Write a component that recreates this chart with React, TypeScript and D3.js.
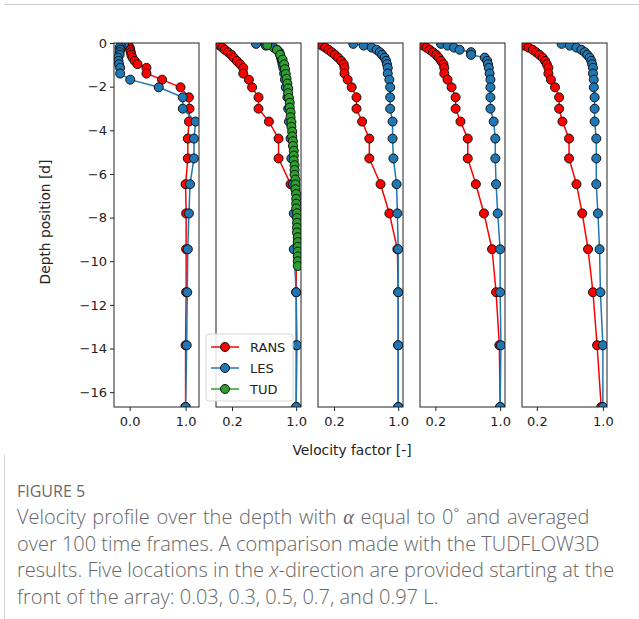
import { useEffect, useRef } from 'react';
import * as d3 from 'd3';

// depth grid (in d) shared by RANS and LES profiles
const depthLevels = [-0.04, -0.12, -0.21, -0.31, -0.42, -0.54, -0.67, -0.82, -0.97, -1.14, -1.40, -1.68, -2.03, -2.49, -3.01, -3.60, -4.38, -5.29, -6.47, -7.81, -9.45, -11.42, -13.85, -16.68];

// x = 0.03 L
const rans003 = [-0.05, -0.02, 0.0, 0.01, 0.02, 0.03, 0.05, 0.09, 0.14, 0.30, 0.30, 0.58, 0.91, 1.06, 1.07, 1.06, 1.04, 1.04, 1.0, 1.01, 1.01, 1.01, 1.0, 1.0];
const les003 = [-0.10, -0.16, -0.18, -0.17, -0.18, -0.18, -0.21, -0.20, -0.19, -0.17, -0.17, 0.01, 0.52, 0.95, 0.95, 1.18, 1.15, 1.15, 1.08, 1.06, 1.04, 1.03, 1.02, 1.0];
// x = 0.3 L
const rans03 = [0.03, 0.05, 0.08, 0.11, 0.15, 0.19, 0.22, 0.26, 0.30, 0.34, 0.34, 0.41, 0.45, 0.53, 0.53, 0.66, 0.78, 0.78, 0.93, 0.99, 1.0, 1.0, 1.0, 1.0];
const les03 = [0.50, 0.62, 0.72, 0.76, 0.79, 0.80, 0.81, 0.82, 0.83, 0.84, 0.85, 0.86, 0.87, 0.89, 0.90, 0.91, 0.93, 0.94, 0.96, 0.97, 0.97, 1.0, 1.01, 1.0];
const tudDepth = [-0.10, -0.32, -0.54, -0.76, -0.98, -1.20, -1.42, -1.64, -1.86, -2.08, -2.30, -2.52, -2.74, -2.96, -3.18, -3.40, -3.62, -3.84, -4.06, -4.28, -4.50, -4.72, -4.94, -5.16, -5.38, -5.60, -5.82, -6.04, -6.26, -6.48, -6.70, -6.92, -7.14, -7.36, -7.58, -7.80, -8.02, -8.24, -8.46, -8.68, -8.90, -9.12, -9.34, -9.56, -9.78, -10.00, -10.22];
const tud03 = [0.64, 0.76, 0.80, 0.83, 0.85, 0.86, 0.87, 0.88, 0.89, 0.90, 0.90, 0.91, 0.92, 0.92, 0.93, 0.93, 0.94, 0.94, 0.95, 0.95, 0.96, 0.96, 0.97, 0.97, 0.97, 0.98, 0.98, 0.98, 0.99, 0.99, 0.99, 1.0, 1.0, 1.0, 1.0, 1.01, 1.01, 1.01, 1.01, 1.01, 1.02, 1.02, 1.02, 1.02, 1.02, 1.02, 1.02];
// x = 0.5 L
const rans05 = [0.02, 0.05, 0.09, 0.13, 0.17, 0.21, 0.25, 0.29, 0.32, 0.33, 0.33, 0.37, 0.42, 0.48, 0.48, 0.55, 0.64, 0.64, 0.78, 0.89, 0.99, 1.0, 1.0, 1.0];
const les05 = [0.44, 0.57, 0.67, 0.73, 0.77, 0.80, 0.83, 0.85, 0.86, 0.87, 0.87, 0.89, 0.90, 0.90, 0.90, 0.93, 0.93, 0.94, 0.98, 0.99, 1.0, 1.0, 1.0, 1.0];
// x = 0.7 L
const rans07 = [0.02, 0.05, 0.09, 0.13, 0.17, 0.21, 0.24, 0.27, 0.30, 0.31, 0.31, 0.35, 0.40, 0.45, 0.45, 0.51, 0.60, 0.60, 0.70, 0.80, 0.90, 0.95, 0.99, 1.0];
const les07 = [0.27, 0.35, 0.43, 0.50, 0.64, 0.64, 0.81, 0.84, 0.85, 0.86, 0.87, 0.88, 0.88, 0.88, 0.88, 0.92, 0.94, 0.94, 0.95, 0.97, 1.0, 1.0, 1.01, 1.0];
// x = 0.97 L
const rans097 = [0.02, 0.05, 0.10, 0.15, 0.19, 0.23, 0.27, 0.30, 0.32, 0.34, 0.34, 0.37, 0.42, 0.47, 0.47, 0.51, 0.59, 0.59, 0.68, 0.75, 0.82, 0.88, 0.93, 0.98];
const les097 = [0.50, 0.60, 0.68, 0.74, 0.78, 0.81, 0.84, 0.86, 0.87, 0.88, 0.88, 0.89, 0.89, 0.90, 0.90, 0.90, 0.92, 0.92, 0.92, 0.94, 0.96, 0.97, 1.0, 1.0];

const depthTicks = [0, -2, -4, -6, -8, -10, -12, -14, -16];
const xTickSets = [[0.0, 1.0], [0.2, 1.0], [0.2, 1.0], [0.2, 1.0], [0.2, 1.0]];
const xDomains = [[-0.28, 1.24], [0.0, 1.06], [0.0, 1.06], [0.01, 1.06], [0.02, 1.05]];

const legendNames = ['RANS', 'LES', 'TUD'];
const colors = { RANS: '#ff0000', LES: '#1f77b4', TUD: '#2ca02c' };

export default function App() {
  const svgRef = useRef<SVGSVGElement>(null);

  useEffect(() => {
    if (!svgRef.current) return;
    const svg = d3.select(svgRef.current);
    svg.selectAll('*').remove();

    const width = 639;
    const height = 619;
    const top = 43;
    const bottom = 407;
    const panelW = 85;
    const panelGap = 102;
    const firstLeft = 114;
    const font = "'DejaVu Sans', sans-serif";

    svg.append('rect').attr('width', width).attr('height', height).attr('fill', 'white');

    // card border
    svg.append('line').attr('x1', 4).attr('x2', width).attr('y1', 4.5).attr('y2', 4.5)
      .attr('stroke', '#d0d0d0');
    svg.append('line').attr('x1', 4.5).attr('x2', 4.5).attr('y1', 455).attr('y2', height)
      .attr('stroke', '#d0d0d0');

    const y = d3.scaleLinear().domain([-16.68, 0]).range([bottom, top]);

    const panels = [
      { series: [{ name: 'RANS', d: depthLevels, v: rans003 }, { name: 'LES', d: depthLevels, v: les003 }] },
      { series: [{ name: 'RANS', d: depthLevels, v: rans03 }, { name: 'LES', d: depthLevels, v: les03 }, { name: 'TUD', d: tudDepth, v: tud03 }] },
      { series: [{ name: 'RANS', d: depthLevels, v: rans05 }, { name: 'LES', d: depthLevels, v: les05 }] },
      { series: [{ name: 'RANS', d: depthLevels, v: rans07 }, { name: 'LES', d: depthLevels, v: les07 }] },
      { series: [{ name: 'RANS', d: depthLevels, v: rans097 }, { name: 'LES', d: depthLevels, v: les097 }] },
    ];

    panels.forEach((p, i) => {
      const left = firstLeft + i * panelGap;
      const x = d3.scaleLinear().domain(xDomains[i]).range([left, left + panelW]);
      const clipId = `clip-${i}`;
      svg.append('clipPath').attr('id', clipId)
        .append('rect').attr('x', left).attr('y', top).attr('width', panelW).attr('height', bottom - top);

      const g = svg.append('g').attr('clip-path', `url(#${clipId})`);
      p.series.forEach(s => {
        const pts = s.d.map((d, k) => [s.v[k], d] as [number, number]);
        const line = d3.line<[number, number]>().x(q => x(q[0])).y(q => y(q[1]));
        const color = colors[s.name as keyof typeof colors];
        g.append('path').datum(pts).attr('d', line).attr('fill', 'none')
          .attr('stroke', color).attr('stroke-width', 1.5);
        g.selectAll(null).data(pts).enter().append('circle')
          .attr('cx', q => x(q[0])).attr('cy', q => y(q[1])).attr('r', 4.5)
          .attr('fill', color).attr('stroke', '#111').attr('stroke-width', 1);
      });

      // frame
      svg.append('rect').attr('x', left).attr('y', top).attr('width', panelW).attr('height', bottom - top)
        .attr('fill', 'none').attr('stroke', '#222').attr('stroke-width', 1);

      const xa = svg.append('g').attr('transform', `translate(0,${bottom})`)
        .call(d3.axisBottom(x).tickValues(xTickSets[i]).tickFormat(d3.format('.1f')).tickSize(4).tickPadding(6));
      xa.select('.domain').remove();
      xa.selectAll('text').attr('font-family', font).attr('font-size', 13).attr('fill', '#222');
      xa.selectAll('line').attr('stroke', '#222');

      if (i === 0) {
        const ya = svg.append('g').attr('transform', `translate(${left},0)`)
          .call(d3.axisLeft(y).tickValues(depthTicks)
            .tickFormat(d => (d as number) < 0 ? `\u2212${Math.abs(d as number)}` : `${d}`)
            .tickSize(4).tickPadding(3));
        ya.select('.domain').remove();
        ya.selectAll('text').attr('font-family', font).attr('font-size', 13).attr('fill', '#222');
        ya.selectAll('line').attr('stroke', '#222');
      }
    });

    // legend in second panel
    const lg = svg.append('g').attr('transform', 'translate(206,334)');
    lg.append('rect').attr('width', 87).attr('height', 67).attr('rx', 3)
      .attr('fill', 'white').attr('fill-opacity', 0.85).attr('stroke', '#d6d6d6');
    legendNames.forEach((n, k) => {
      const cy = 13 + k * 21;
      const color = colors[n as keyof typeof colors];
      lg.append('line').attr('x1', 5).attr('x2', 33).attr('y1', cy).attr('y2', cy)
        .attr('stroke', color).attr('stroke-width', 1.5);
      lg.append('circle').attr('cx', 19).attr('cy', cy).attr('r', 4.5)
        .attr('fill', color).attr('stroke', '#111');
      lg.append('text').attr('x', 44).attr('y', cy).attr('dy', '0.36em')
        .attr('font-family', font).attr('font-size', 13).attr('fill', '#222').text(n);
    });

    // axis titles
    svg.append('text').attr('transform', 'translate(50,222) rotate(-90)')
      .attr('text-anchor', 'middle').attr('font-family', font).attr('font-size', 13.8)
      .attr('fill', '#222').text('Depth position [d]');
    svg.append('text').attr('x', 352).attr('y', 455)
      .attr('text-anchor', 'middle').attr('font-family', font).attr('font-size', 13.8)
      .attr('fill', '#222').text('Velocity factor [-]');

    // caption
    const capFont = "'Open Sans', sans-serif";
    svg.append('text').attr('x', 17).attr('y', 497).attr('font-family', capFont)
      .attr('font-size', 16).attr('fill', '#6a6a6a').text('FIGURE 5');
    const cap = svg.append('g').attr('font-family', capFont).attr('font-size', 20)
      .attr('fill', '#666').attr('font-weight', 300);
    const l1 = cap.append('text').attr('x', 17).attr('y', 524).attr('word-spacing', 1.5);
    l1.append('tspan').text('Velocity profile over the depth with ');
    l1.append('tspan').attr('font-style', 'italic').attr('font-family', "'Liberation Serif', serif")
      .attr('font-weight', 400).text('\u03b1');
    l1.append('tspan').text(' equal to 0\u02da and averaged');
    cap.append('text').attr('x', 17).attr('y', 551).text('over 100 time frames. A comparison made with the TUDFLOW3D');
    const l3 = cap.append('text').attr('x', 17).attr('y', 577);
    l3.append('tspan').text('results. Five locations in the ');
    l3.append('tspan').attr('font-style', 'italic').text('x');
    l3.append('tspan').text('-direction are provided starting at the');
    cap.append('text').attr('x', 17).attr('y', 604).text('front of the array: 0.03, 0.3, 0.5, 0.7, and 0.97 L.');
  }, []);

  return (
    <svg
      ref={svgRef}
      width={639}
      height={619}
      style={{ position: 'absolute', left: 0, top: 0 }}
    />
  );
}
